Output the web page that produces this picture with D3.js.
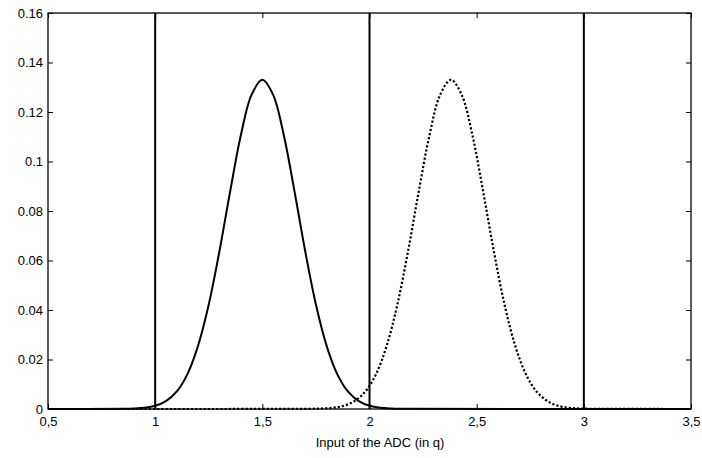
<!DOCTYPE html>
<html>
<head>
<meta charset="utf-8">
<script src="https://cdn.jsdelivr.net/npm/d3@7"></script>
<style>
  body { margin: 0; background: #fff; }
  text { font-family: "Liberation Sans", Arial, sans-serif; }
</style>
</head>
<body>
<div id="chart"></div>
<script>
// values
var solidX = [0.5, 0.85, 0.9, 0.95, 1.0, 1.05, 1.1, 1.15, 1.2, 1.25, 1.3, 1.35, 1.4, 1.45, 1.5,
              1.55, 1.6, 1.65, 1.7, 1.75, 1.8, 1.85, 1.9, 1.95, 2.0, 2.05, 2.1, 2.15, 3.5];
var solidY = [0, 0.0001, 0.0002, 0.0005, 0.0013, 0.0032, 0.0070, 0.0140, 0.0255, 0.0422, 0.0638, 0.0880, 0.1107, 0.1270, 0.1330,
              0.1270, 0.1107, 0.0880, 0.0638, 0.0422, 0.0255, 0.0140, 0.0070, 0.0032, 0.0013, 0.0005, 0.0002, 0.0001, 0];

var dottedX = [0.5, 1.73, 1.78, 1.83, 1.88, 1.93, 1.98, 2.03, 2.08, 2.13, 2.18, 2.23, 2.28, 2.33, 2.38,
               2.43, 2.48, 2.53, 2.58, 2.63, 2.68, 2.73, 2.78, 2.83, 2.88, 2.93, 2.98, 3.03, 3.5];
var dottedY = [0, 0.0001, 0.0002, 0.0005, 0.0013, 0.0032, 0.0070, 0.0140, 0.0255, 0.0422, 0.0638, 0.0880, 0.1107, 0.1270, 0.1330,
               0.1270, 0.1107, 0.0880, 0.0638, 0.0422, 0.0255, 0.0140, 0.0070, 0.0032, 0.0013, 0.0005, 0.0002, 0.0001, 0];

var thresholds = [1, 2, 3];

var xTicks = [0.5, 1, 1.5, 2, 2.5, 3, 3.5];
var xTickLabels = ['0,5', '1', '1,5', '2', '2,5', '3', '3,5'];
var yTicks = [0, 0.02, 0.04, 0.06, 0.08, 0.1, 0.12, 0.14, 0.16];
var yTickLabels = ['0', '0.02', '0.04', '0.06', '0.08', '0.1', '0.12', '0.14', '0.16'];

var svgWidth = 702
var svgHeight = 458
var plotLeft = 48, plotRight = 691, plotTop = 13, plotBottom = 409

var svg = d3.select('#chart')
    .append('svg')
    .attr('width', svgWidth)
    .attr('height', svgHeight)

var x = d3.scaleLinear().domain([0.5, 3.5]).range([plotLeft, plotRight])
var y = d3.scaleLinear().domain([0, 0.16]).range([plotBottom, plotTop])

// axes, ticks pointing inward on all four sides
var fontSize = '13px'
svg.append('g')
    .attr('transform', 'translate(0,' + plotBottom + ')')
    .call(d3.axisBottom(x).tickValues(xTicks)
        .tickFormat(function(d, i) { return xTickLabels[i] })
        .tickSizeInner(-5).tickSizeOuter(0).tickPadding(8))
    .call(function(g) { g.select('.domain').remove() })
    .selectAll('text').attr('font-size', fontSize).attr('font-family', '"Liberation Sans", Arial, sans-serif')

svg.append('g')
    .attr('transform', 'translate(0,' + plotTop + ')')
    .call(d3.axisTop(x).tickValues(xTicks).tickFormat('')
        .tickSizeInner(-5).tickSizeOuter(0))
    .call(function(g) { g.select('.domain').remove() })

svg.append('g')
    .attr('transform', 'translate(' + plotLeft + ',0)')
    .call(d3.axisLeft(y).tickValues(yTicks)
        .tickFormat(function(d, i) { return yTickLabels[i] })
        .tickSizeInner(-5).tickSizeOuter(0).tickPadding(5))
    .call(function(g) { g.select('.domain').remove() })
    .selectAll('text').attr('font-size', fontSize).attr('font-family', '"Liberation Sans", Arial, sans-serif')

svg.append('g')
    .attr('transform', 'translate(' + plotRight + ',0)')
    .call(d3.axisRight(y).tickValues(yTicks).tickFormat('')
        .tickSizeInner(-5).tickSizeOuter(0))
    .call(function(g) { g.select('.domain').remove() })

svg.append('rect')
    .attr('x', plotLeft)
    .attr('y', plotTop)
    .attr('width', plotRight - plotLeft)
    .attr('height', plotBottom - plotTop)
    .attr('fill', 'none')
    .attr('stroke', '#000')
    .attr('stroke-width', 1.3)

var line = d3.line()
    .x(function(d) { return x(d[0]) })
    .y(function(d) { return y(d[1]) })
    .curve(d3.curveCatmullRom)

svg.append('path')
    .datum(d3.zip(dottedX, dottedY))
    .attr('d', line)
    .attr('fill', 'none')
    .attr('stroke', '#000')
    .attr('stroke-width', 2.2)
    .attr('stroke-dasharray', '2.2,2')

svg.append('path')
    .datum(d3.zip(solidX, solidY))
    .attr('d', line)
    .attr('fill', 'none')
    .attr('stroke', '#000')
    .attr('stroke-width', 2)

svg.selectAll('line.threshold')
    .data(thresholds)
    .enter()
    .append('line')
    .classed('threshold', true)
    .attr('x1', function(d) { return x(d) })
    .attr('x2', function(d) { return x(d) })
    .attr('y1', y(0))
    .attr('y2', y(0.16))
    .attr('stroke', '#000')
    .attr('stroke-width', 2)

svg.append('text')
    .attr('x', 380)
    .attr('y', 447)
    .attr('text-anchor', 'middle')
    .attr('font-size', fontSize)
    .text('Input of the ADC (in q)')
</script>
</body>
</html>
